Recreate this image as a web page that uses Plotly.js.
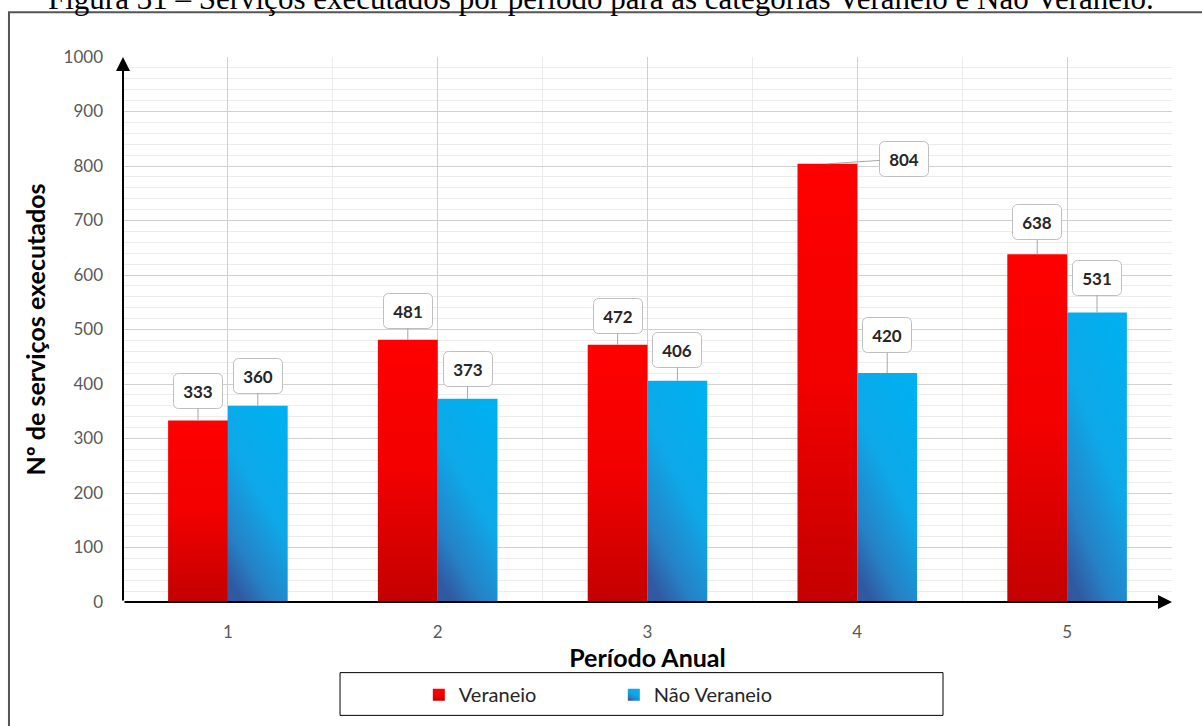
<!DOCTYPE html>
<html>
<head>
<meta charset="utf-8">
<script src="https://cdn.plot.ly/plotly-3.0.1.min.js"></script>
<style>
  html, body { margin: 0; padding: 0; background: #ffffff; }
  #chart { width: 1202px; height: 726px; }
</style>
</head>
<body>
<div id="chart"></div>
<script>
// Serviços executados por período anual
const periods = [1, 2, 3, 4, 5];
const tickLabels = ['1', '2', '3', '4', '5'];
const veraneio = [333, 481, 472, 804, 638];
const naoVeraneio = [360, 373, 406, 420, 531];
const seriesNames = ['Veraneio', 'Não Veraneio'];

const captionText = 'Figura 31 – Serviços executados por período para as categorias Veraneio e Não Veraneio.';
const yTitle = 'Nº de serviços executados';
const xTitle = 'Período Anual';

// label box offsets (px) from the top of each bar
const offsetsVeraneio = [[0, -30], [0, -29], [0, -29], [77, -5], [0, -32]];
const offsetsNao = [[0, -30], [0, -30], [0, -31], [0, -38], [0, -35]];

const FONT = 'Lato, "Open Sans", "Liberation Sans", sans-serif';
const bargap = 0.43;
const barW = (1 - bargap) / 2;

const traces = [
  {
    type: 'bar', name: seriesNames[0], x: periods, y: veraneio,
    marker: { color: '#ee0000', line: { width: 0 } },
    hoverinfo: 'skip'
  },
  {
    type: 'bar', name: seriesNames[1], x: periods, y: naoVeraneio,
    marker: { color: '#12a6e4', line: { width: 0 } },
    hoverinfo: 'skip'
  }
];

function valueLabel(x, y, off) {
  return {
    x: x, y: y, xref: 'x', yref: 'y',
    text: String(y),
    showarrow: true, arrowhead: 0, arrowwidth: 1, arrowcolor: '#a6a6a6',
    ax: off[0], ay: off[1],
    font: { family: FONT, size: 17, color: '#262626', weight: 'bold' },
    bgcolor: '#ffffff', bordercolor: '#bfbfbf', borderwidth: 1, borderpad: 6,
    width: 36, height: 22
  };
}

const annotations = [];
periods.forEach((p, i) => {
  annotations.push(valueLabel(p - barW / 2, veraneio[i], offsetsVeraneio[i]));
  annotations.push(valueLabel(p + barW / 2, naoVeraneio[i], offsetsNao[i]));
});

// axis arrows
annotations.push({
  x: 0.5, y: 1000, ax: 0.5, ay: 0, xref: 'x', yref: 'y', axref: 'x', ayref: 'y',
  text: '', showarrow: true, arrowhead: 2, arrowsize: 1.4, arrowwidth: 2, arrowcolor: '#000000'
});
annotations.push({
  x: 5.5, y: 0, ax: 0.5, ay: 0, xref: 'x', yref: 'y', axref: 'x', ayref: 'y',
  text: '', showarrow: true, arrowhead: 2, arrowsize: 1.4, arrowwidth: 2, arrowcolor: '#000000'
});

// figure caption above the frame
annotations.push({
  x: 0.4557, y: 1.1078, xref: 'paper', yref: 'paper', xanchor: 'center', yanchor: 'middle',
  text: captionText, showarrow: false,
  font: { family: '"Liberation Serif", "DejaVu Serif", serif', size: 31, color: '#000000' }
});

const layout = {
  width: 1202, height: 726,
  margin: { l: 123, r: 30, t: 57, b: 121 },
  paper_bgcolor: '#ffffff', plot_bgcolor: '#ffffff',
  barmode: 'group', bargap: bargap, bargroupgap: 0,
  showlegend: true,
  legend: {
    orientation: 'h', x: 0.282, y: -0.1700, xanchor: 'left', yanchor: 'middle',
    font: { family: FONT, size: 20, color: '#262626' },
    entrywidth: 150, bgcolor: 'rgba(0,0,0,0)', borderwidth: 0, traceorder: 'normal'
  },
  xaxis: {
    range: [0.5, 5.5], tickvals: periods, ticktext: tickLabels,
    showgrid: true, gridcolor: '#d0d0d0', gridwidth: 1,
    minor: { tick0: 0.5, dtick: 1, showgrid: true, gridcolor: '#ececec', gridwidth: 1 },
    zeroline: false, showline: false, ticks: '',
    ticklabelstandoff: 18,
    tickfont: { family: FONT, size: 17, color: '#595959' },
    title: { text: xTitle, standoff: 2, font: { family: FONT, size: 25, color: '#000000', weight: 'bold' } },
    fixedrange: true
  },
  yaxis: {
    range: [0, 1000], dtick: 100, tick0: 0,
    showgrid: true, gridcolor: '#d0d0d0', gridwidth: 1,
    minor: { dtick: 20, showgrid: true, gridcolor: '#ececec', gridwidth: 1 },
    zeroline: false, showline: false, ticks: '',
    ticklabelstandoff: 19,
    tickfont: { family: FONT, size: 17, color: '#595959' },
    title: { text: yTitle, standoff: 10, font: { family: FONT, size: 25, color: '#000000', weight: 'bold' } },
    fixedrange: true
  },
  shapes: [
    // outer frame
    { type: 'rect', xref: 'paper', yref: 'paper', x0: -0.1087, x1: 1.2, y0: -0.4, y1: 1.0821,
      line: { color: '#555555', width: 2 }, fillcolor: 'rgba(0,0,0,0)', layer: 'below' },
    // legend box
    { type: 'rect', xref: 'paper', yref: 'paper', x0: 0.2069, x1: 0.7817, y0: -0.208, y1: -0.1296,
      line: { color: '#000000', width: 1 }, fillcolor: 'rgba(0,0,0,0)', layer: 'above' }
  ],
  annotations: annotations
};

const gradients = [
  { id: 'gradVeraneio', x1: 0, y1: 0, x2: 0, y2: 1,
    stops: [[0, '#ff0000'], [0.5, '#f20000'], [1, '#c40000']] },
  { id: 'gradNaoVeraneio', x1: 0.75, y1: 0, x2: 0.25, y2: 1,
    stops: [[0, '#00b0f0'], [0.45, '#0ea8e8'], [0.8, '#2681c6'], [1, '#2f5aa2']] }
];

function decorate(gd) {
  const svg = gd.querySelector('.main-svg');
  let defs = svg.querySelector('defs');
  const NS = 'http://www.w3.org/2000/svg';
  gradients.forEach(g => {
    if (defs.querySelector('#' + g.id)) return;
    const lg = document.createElementNS(NS, 'linearGradient');
    lg.setAttribute('id', g.id);
    ['x1', 'y1', 'x2', 'y2'].forEach(k => lg.setAttribute(k, g[k]));
    g.stops.forEach(s => {
      const st = document.createElementNS(NS, 'stop');
      st.setAttribute('offset', s[0]);
      st.setAttribute('stop-color', s[1]);
      lg.appendChild(st);
    });
    defs.appendChild(lg);
  });
  gd.querySelectorAll('.barlayer .trace').forEach((tr, i) => {
    tr.querySelectorAll('path').forEach(p => { p.style.fill = 'url(#' + gradients[i].id + ')'; });
  });
  gd.querySelectorAll('.legend .traces').forEach((tr, i) => {
    tr.querySelectorAll('.legendpoints path').forEach(p => { p.style.fill = 'url(#' + gradients[i].id + ')'; });
  });
  gd.querySelectorAll('.annotation .bg').forEach(r => { r.setAttribute('rx', 5); r.setAttribute('ry', 5); });
}

const gd = document.getElementById('chart');
Plotly.newPlot(gd, traces, layout, { staticPlot: true, displayModeBar: false }).then(() => {
  decorate(gd);
  gd.on && gd.on('plotly_afterplot', () => decorate(gd));
});
</script>
</body>
</html>
